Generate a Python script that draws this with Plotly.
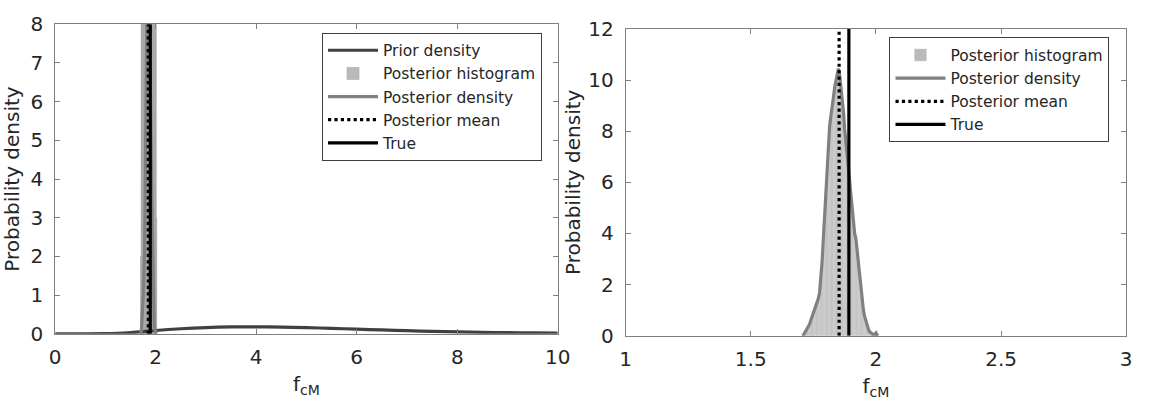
import plotly.graph_objects as go

# ---------------- data ----------------
prior_x = [0, 0.5, 1, 1.25, 1.5, 1.75, 2, 2.5, 3, 3.5, 4, 4.5, 5, 5.5, 6, 6.5, 7, 7.5, 8, 8.5, 9, 9.5, 10]
prior_y = [0, 0, 0.003, 0.012, 0.03, 0.055, 0.085, 0.13, 0.16, 0.176, 0.18, 0.172, 0.158, 0.14, 0.12, 0.1, 0.08,
           0.062, 0.047, 0.036, 0.028, 0.022, 0.018]

dens_x = [1.705, 1.71, 1.715, 1.72, 1.725, 1.73, 1.735, 1.74, 1.745, 1.75, 1.755, 1.76, 1.765, 1.77, 1.775,
          1.78, 1.785, 1.79, 1.795, 1.80, 1.805, 1.81, 1.815, 1.82, 1.825, 1.83, 1.835, 1.84, 1.845, 1.85,
          1.855, 1.86, 1.865, 1.87, 1.875, 1.88, 1.885, 1.89, 1.895, 1.90, 1.905, 1.91, 1.915, 1.92, 1.925,
          1.93, 1.935, 1.94, 1.945, 1.95, 1.955, 1.96, 1.965, 1.97, 1.975, 1.98, 1.985, 1.99, 1.995, 2.00,
          2.005, 2.01]
dens_y = [0.0, 0.02, 0.1, 0.18, 0.27, 0.35, 0.45, 0.6, 0.75, 0.9, 1.05, 1.25, 1.4, 1.45, 1.7,
          2.2, 2.9, 3.8, 4.7, 5.6, 6.6, 7.5, 8.2, 8.6, 8.9, 9.3, 9.7, 10.0, 10.25, 10.45,
          10.2, 9.8, 9.4, 8.8, 8.1, 7.6, 7.1, 6.4, 5.9, 5.4, 4.9, 4.4, 4.0, 3.8, 3.3,
          2.8, 2.2, 1.7, 1.3, 1.0, 0.75, 0.55, 0.4, 0.25, 0.15, 0.1, 0.06, 0.04, 0.06, 0.1,
          0.03, 0.0]

# right panel histogram (pdf-normalised, bin width 0.005)
hist_x = [1.7125, 1.7175, 1.7225, 1.7275, 1.7325, 1.7375, 1.7425, 1.7475, 1.7525, 1.7575, 1.7625, 1.7675,
          1.7725, 1.7775, 1.7825, 1.7875, 1.7925, 1.7975, 1.8025, 1.8075, 1.8125, 1.8175, 1.8225, 1.8275,
          1.8325, 1.8375, 1.8425, 1.8475, 1.8525, 1.8575, 1.8625, 1.8675, 1.8725, 1.8775, 1.8825, 1.8875,
          1.8925, 1.8975, 1.9025, 1.9075, 1.9125, 1.9175, 1.9225, 1.9275, 1.9325, 1.9375, 1.9425, 1.9475,
          1.9525, 1.9575, 1.9625, 1.9675, 1.9725, 1.9775, 1.9825, 1.9875, 1.9925, 1.9975, 2.0025]
hist_y = [0.05, 0.12, 0.2, 0.3, 0.38, 0.5, 0.62, 0.8, 0.95, 1.1, 1.3, 1.42, 1.5, 1.9, 2.4, 3.2, 4.1, 5.0,
          6.0, 7.0, 7.8, 8.3, 8.7, 9.0, 9.4, 9.8, 10.1, 10.3, 10.3, 10.0, 9.6, 9.1, 8.5, 7.9, 7.3, 6.8,
          6.2, 5.6, 5.1, 4.6, 4.2, 3.9, 3.5, 3.0, 2.5, 1.9, 1.5, 1.1, 0.85, 0.65, 0.48, 0.32, 0.2, 0.12,
          0.08, 0.05, 0.04, 0.08, 0.2]
hist_width = 0.005

# left panel histogram (coarser bins, bin width 0.01; tall bars clipped at the top of the axis)
left_hist_x = [1.705, 1.715, 1.725, 1.735, 1.745, 1.755, 1.765, 1.775, 1.785, 1.795, 1.805, 1.815, 1.825,
               1.835, 1.845, 1.855, 1.865, 1.875, 1.885, 1.895, 1.905, 1.915, 1.925, 1.935, 1.945, 1.955,
               1.965, 1.975, 1.985, 1.995, 2.005, 2.015]
left_hist_y = [2, 12, 25, 38, 55, 80, 150, 330, 560, 760, 900, 1000, 1020, 980, 920, 780, 640, 520, 420,
               360, 250, 140, 80, 45, 25, 14, 10, 9, 12, 20, 10, 3]
left_hist_width = 0.01

post_mean = 1.853
true_val = 1.892

left_xticks = [0, 2, 4, 6, 8, 10]
left_yticks = [0, 1, 2, 3, 4, 5, 6, 7, 8]
right_xticks = [1, 1.5, 2, 2.5, 3]
right_yticks = [0, 2, 4, 6, 8, 10, 12]

# ---------------- style ----------------
FONT = "DejaVu Sans"
TXT = "#262626"
AX = "#7f7f7f"
C_PRIOR = "#404040"
C_HIST = "#bababa"
C_HIST_EDGE = "#a6a6a6"
C_DENS = "#808080"
W = 3.2

fig = go.Figure()

# left panel
fig.add_trace(go.Scatter(x=prior_x, y=prior_y, mode="lines", name="Prior density",
                         line=dict(color=C_PRIOR, width=W, shape="spline"),
                         xaxis="x", yaxis="y", legend="legend"))
fig.add_trace(go.Bar(x=left_hist_x, y=left_hist_y, width=left_hist_width, name="Posterior histogram",
                     marker=dict(color=C_HIST, line=dict(color=C_HIST_EDGE, width=0.6)),
                     xaxis="x", yaxis="y", legend="legend"))
fig.add_trace(go.Scatter(x=dens_x, y=dens_y, mode="lines", name="Posterior density",
                         line=dict(color=C_DENS, width=W), xaxis="x", yaxis="y", legend="legend"))
fig.add_trace(go.Scatter(x=[post_mean, post_mean], y=[0, 8], mode="lines", name="Posterior mean",
                         line=dict(color="black", width=W, dash="dot"), xaxis="x", yaxis="y", legend="legend"))
fig.add_trace(go.Scatter(x=[true_val, true_val], y=[0, 8], mode="lines", name="True",
                         line=dict(color="black", width=W), xaxis="x", yaxis="y", legend="legend"))

# right panel
fig.add_trace(go.Bar(x=hist_x, y=hist_y, width=hist_width, name="Posterior histogram",
                     marker=dict(color=C_HIST, line=dict(color="#d0d0d0", width=0.5)),
                     xaxis="x2", yaxis="y2", legend="legend2"))
fig.add_trace(go.Scatter(x=dens_x, y=dens_y, mode="lines", name="Posterior density",
                         line=dict(color=C_DENS, width=W), xaxis="x2", yaxis="y2", legend="legend2"))
fig.add_trace(go.Scatter(x=[post_mean, post_mean], y=[0, 12], mode="lines", name="Posterior mean",
                         line=dict(color="black", width=W, dash="dot"), xaxis="x2", yaxis="y2", legend="legend2"))
fig.add_trace(go.Scatter(x=[true_val, true_val], y=[0, 12], mode="lines", name="True",
                         line=dict(color="black", width=W), xaxis="x2", yaxis="y2", legend="legend2"))

axis_common = dict(showline=True, linecolor=AX, linewidth=1, mirror="ticks", ticks="inside",
                   ticklen=5, tickcolor=AX, tickwidth=1, showgrid=False, zeroline=False,
                   tickfont=dict(family=FONT, size=20, color=TXT))

TITLE_FONT = dict(family=FONT, size=20, color=TXT)
LEG_FONT = dict(family=FONT, size=15.5, color=TXT)

H = 406.0
fig.update_layout(
    width=1152, height=406,
    margin=dict(l=0, r=0, t=0, b=0),
    paper_bgcolor="white", plot_bgcolor="white",
    font=dict(family=FONT, color=TXT),
    showlegend=True,
    barmode="overlay",
    xaxis=dict(domain=[50 / 1152, 561 / 1152], range=[0, 10], tickvals=left_xticks, anchor="y",
               title=dict(text="f<sub>cM</sub>", font=TITLE_FONT, standoff=9),
               ticklabelstandoff=5, **axis_common),
    yaxis=dict(domain=[1 - 342 / H, 1 - 13 / H], range=[0, 8], tickvals=left_yticks, anchor="x",
               title=dict(text="Probability density", font=TITLE_FONT, standoff=5),
               ticklabelstandoff=7, **axis_common),
    xaxis2=dict(domain=[630 / 1152, 1139 / 1152], range=[1, 3], tickvals=right_xticks,
                ticktext=["1", "1.5", "2", "2.5", "3"], anchor="y2",
                title=dict(text="f<sub>cM</sub>", font=TITLE_FONT, standoff=9),
                ticklabelstandoff=5, **axis_common),
    yaxis2=dict(domain=[1 - 344 / H, 1 - 18 / H], range=[0, 12], tickvals=right_yticks, anchor="x2",
                title=dict(text="Probability density", font=TITLE_FONT, standoff=2),
                ticklabelstandoff=7, **axis_common),
    legend=dict(x=545 / 1152, y=1 - 22 / H, xanchor="right", yanchor="top", bgcolor="white",
                bordercolor="#404040", borderwidth=1, font=LEG_FONT,
                tracegroupgap=0, itemwidth=50),
    legend2=dict(x=1122 / 1152, y=1 - 27 / H, xanchor="right", yanchor="top", bgcolor="white",
                 bordercolor="#404040", borderwidth=1, font=LEG_FONT,
                 tracegroupgap=0, itemwidth=50),
)

fig.write_html("out.html")
